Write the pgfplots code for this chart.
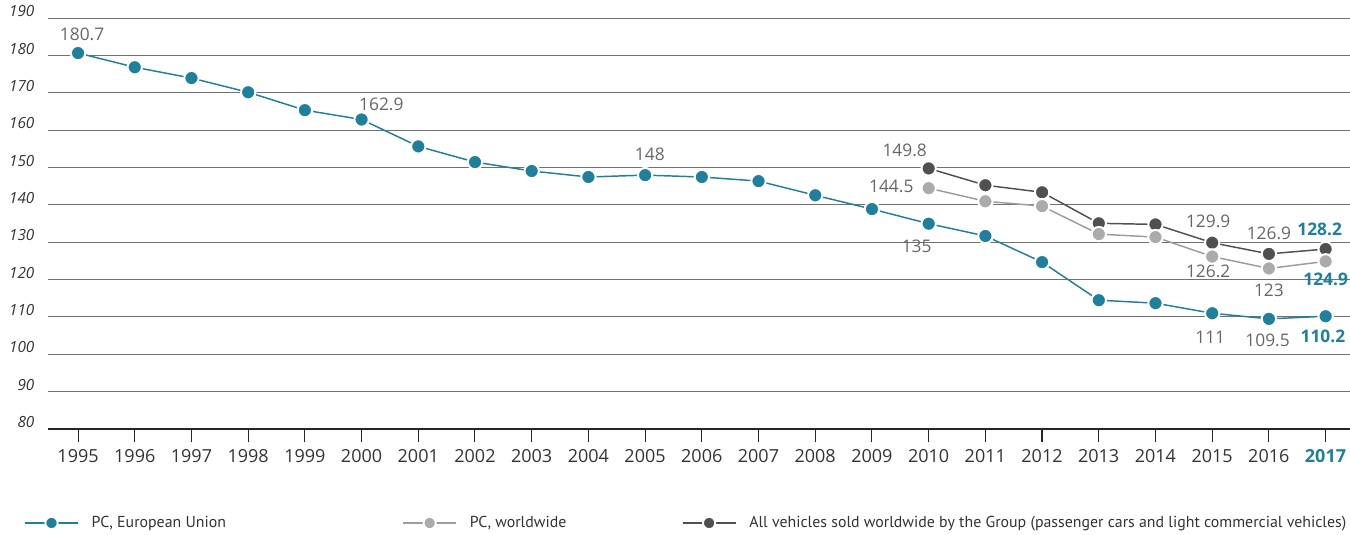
\documentclass[border=0pt]{standalone}
\usepackage{fontspec}
\setmainfont{Open Sans}
\newfontfamily\legfont{PT Sans}
\usepackage{pgfplots}
\pgfplotsset{compat=1.18}
\definecolor{vwteal}{HTML}{1E809C}
\definecolor{lgray}{HTML}{ABABAE}
\definecolor{lgrayline}{HTML}{9C9C9F}
\definecolor{dgray}{HTML}{505053}
\definecolor{lblgray}{HTML}{666666}
\definecolor{gridgray}{HTML}{707070}
\definecolor{tickcol}{HTML}{333333}

\pgfplotstableread{
year val
1995 180.7
1996 176.9
1997 174.0
1998 170.2
1999 165.4
2000 162.9
2001 155.7
2002 151.5
2003 149.1
2004 147.5
2005 148.0
2006 147.5
2007 146.4
2008 142.6
2009 138.9
2010 135.0
2011 131.7
2012 124.7
2013 114.5
2014 113.7
2015 111.0
2016 109.5
2017 110.2
}\eudata

\pgfplotstableread{
year val
2010 144.5
2011 141.0
2012 139.7
2013 132.2
2014 131.4
2015 126.2
2016 123.0
2017 124.9
}\wwdata

\pgfplotstableread{
year val
2010 149.8
2011 145.3
2012 143.4
2013 135.1
2014 134.8
2015 129.9
2016 126.9
2017 128.2
}\alldata

\begin{document}
\begin{tikzpicture}
\useasboundingbox (-36pt,-79.5pt) rectangle (976.5pt,321.75pt);
\begin{axis}[
  at={(0pt,0pt)}, anchor=south west,
  scale only axis, width=976.5pt, height=308pt,
  xmin=1994.47, xmax=2017.43, ymin=80, ymax=190,
  clip=false,
  axis x line*=bottom, axis y line*=left,
  y axis line style={draw=none},
  x axis line style={draw=black!85, line width=0.9pt},
  xtick={1995,...,2017},
  xticklabels={1995,1996,1997,1998,1999,2000,2001,2002,2003,2004,2005,2006,2007,2008,2009,2010,2011,2012,2013,2014,2015,2016,{\textcolor{vwteal}{\bfseries 2017}}},
  tick align=outside,
  major tick length=10pt,
  xtick style={draw=black!85, line width=0.8pt},
  xticklabel style={font=\fontsize{13.5}{16}\selectfont, text=tickcol, anchor=base, inner sep=0pt, yshift=-15pt},
  ytick={80,90,...,190},
  yticklabels={80,90,100,110,120,130,140,150,160,170,180,190},
  ytick style={draw=none},
  yticklabel style={font=\fontsize{11.5}{14}\selectfont\itshape, text=tickcol, anchor=base east, inner sep=0pt, xshift=0pt, yshift=1pt},
  ymajorgrids,
  grid style={gridgray, line width=0.75pt},
  legend columns=3,
  legend cell align=left,
  legend style={at={(-0.01843,-0.2289)}, anchor=west, draw=none, fill=none,
    inner sep=0pt, column sep=0pt, nodes={inner sep=0pt},
    font=\legfont\fontsize{11.9}{14}\selectfont, text=tickcol},
  legend image code/.code={\draw[mark repeat=2,mark phase=2,#1] plot coordinates {(0pt,0pt) (19.875pt,0pt) (39.75pt,0pt)};},
  mark size=5.4pt,
]
\addlegendimage{vwteal, line width=1.1pt, mark=*, mark options={fill=vwteal, draw=white, line width=1.4pt}, mark size=4.6pt}
\addlegendentry{\hspace*{9.75pt}\makebox[233pt][l]{PC, European Union}}
\addlegendimage{lgrayline, line width=1.1pt, mark=*, mark options={fill=lgray, draw=white, line width=1.4pt}, mark size=4.6pt}
\addlegendentry{\hspace*{9.75pt}\makebox[159pt][l]{PC, worldwide}}
\addlegendimage{dgray, line width=1.1pt, mark=*, mark options={fill=dgray, draw=white, line width=1.4pt}, mark size=4.6pt}
\addlegendentry{\hspace*{9.75pt}All vehicles sold worldwide by the Group (passenger cars and light commercial vehicles)}

\addplot[forget plot, dgray, line width=1.1pt, mark=*, mark options={fill=dgray, draw=white, line width=1.5pt}] table[x=year,y=val]{\alldata};
\addplot[forget plot, lgrayline, line width=1.1pt, mark=*, mark options={fill=lgray, draw=white, line width=1.5pt}] table[x=year,y=val]{\wwdata};
\addplot[forget plot, vwteal, line width=1.1pt, mark=*, mark options={fill=vwteal, draw=white, line width=1.5pt}] table[x=year,y=val]{\eudata};

\tikzset{lbl/.style={font=\fontsize{13}{15}\selectfont, text=lblgray, inner sep=0pt},
         blbl/.style={font=\fontsize{13}{15}\selectfont\bfseries, text=vwteal, inner sep=0pt}}
\node[lbl, anchor=base, xshift=3pt, yshift=9.75pt] at (axis cs:1995,180.7) {180.7};
\node[lbl, anchor=base west, xshift=-2pt, yshift=7pt] at (axis cs:2000,162.9) {162.9};
\node[lbl, anchor=base, xshift=3.5pt, yshift=11.25pt] at (axis cs:2005,148) {148};
\node[lbl, anchor=base, xshift=-18pt, yshift=9pt] at (axis cs:2010,149.8) {149.8};
\node[lbl, anchor=base east, xshift=-11.25pt, yshift=-3pt] at (axis cs:2010,144.5) {144.5};
\node[lbl, anchor=base, xshift=-9pt, yshift=-21.75pt] at (axis cs:2010,135) {135};
\node[lbl, anchor=base, xshift=-3pt, yshift=11.25pt] at (axis cs:2015,129.9) {129.9};
\node[lbl, anchor=base, xshift=-3pt, yshift=-15.75pt] at (axis cs:2015,126.2) {126.2};
\node[lbl, anchor=base, xshift=-1.5pt, yshift=-22.5pt] at (axis cs:2015,111) {111};
\node[lbl, anchor=base, xshift=0pt, yshift=11pt] at (axis cs:2016,126.9) {126.9};
\node[lbl, anchor=base, xshift=0pt, yshift=-21pt] at (axis cs:2016,123) {123};
\node[lbl, anchor=base, xshift=-1pt, yshift=-21pt] at (axis cs:2016,109.5) {109.5};
\node[blbl, anchor=base, xshift=-4.5pt, yshift=10.5pt] at (axis cs:2017,128.2) {128.2};
\node[blbl, anchor=base, xshift=0pt, yshift=-18pt] at (axis cs:2017,124.9) {124.9};
\node[blbl, anchor=base, xshift=-2pt, yshift=-19.5pt] at (axis cs:2017,110.2) {110.2};
\end{axis}
\end{tikzpicture}
\end{document}
